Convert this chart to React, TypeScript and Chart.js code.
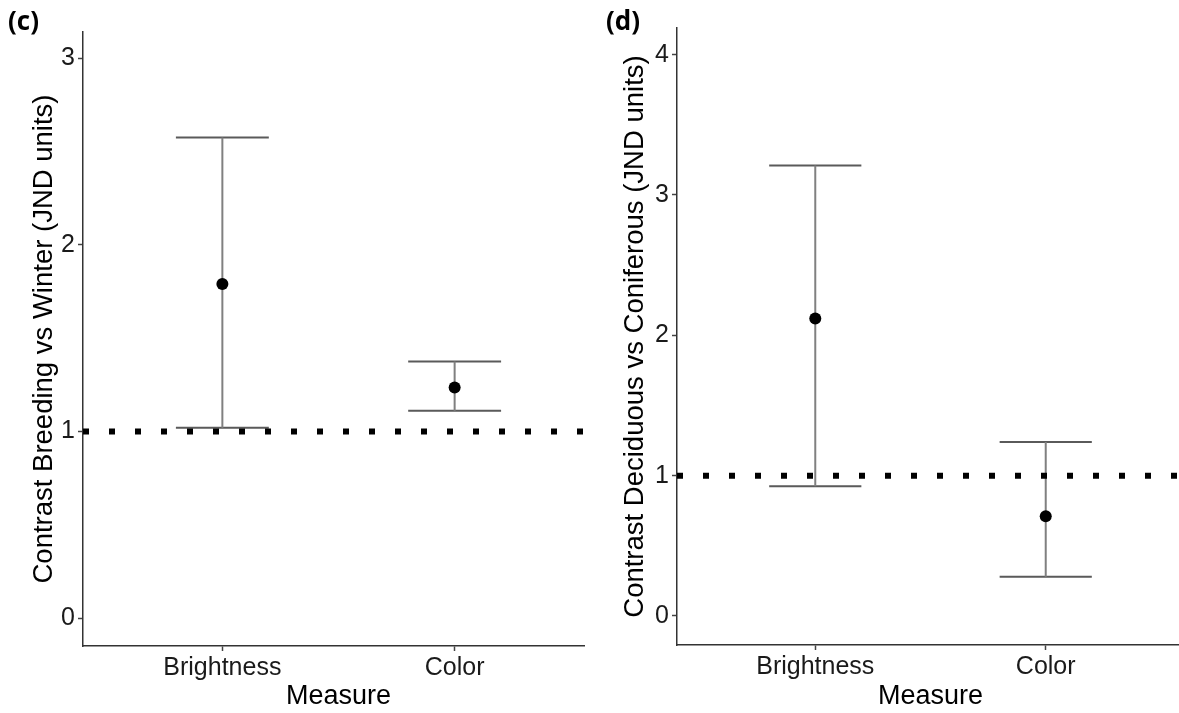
import React, { useEffect, useRef } from "react";
import { Chart, registerables } from "chart.js";

Chart.register(...registerables);

// ---- data ----
const categories = ["Brightness", "Color"];

const panelCMean = [1.79, 1.235];
const panelCLower = [1.02, 1.11];
const panelCUpper = [2.575, 1.375];
const panelCTicks = [0, 1, 2, 3];

const panelDMean = [2.12, 0.71];
const panelDLower = [0.925, 0.28];
const panelDUpper = [3.21, 1.24];
const panelDTicks = [0, 1, 2, 3, 4];

const referenceLine = 1;
const capHalfWidth = 0.2;

const FONT = "'Liberation Sans', Arial, sans-serif";

type PanelCfg = {
  mean: number[];
  lower: number[];
  upper: number[];
  yTicks: number[];
  yMin: number;
  yMax: number;
  yTitle: string;
  yAxisWidth: number;
  xAxisHeight: number;
  padTop: number;
  padRight: number;
  yTitlePad: number;
};

function buildChart(canvas: HTMLCanvasElement, cfg: PanelCfg) {
  const points = categories.map((_, i) => ({ x: i + 1, y: cfg.mean[i] }));
  const whiskers: { x: number; y: number | null }[] = [];
  const caps: { x: number; y: number | null }[] = [];
  categories.forEach((_, i) => {
    const x = i + 1;
    whiskers.push({ x, y: cfg.lower[i] }, { x, y: cfg.upper[i] }, { x, y: null });
    caps.push(
      { x: x - capHalfWidth, y: cfg.upper[i] },
      { x: x + capHalfWidth, y: cfg.upper[i] },
      { x, y: null },
      { x: x - capHalfWidth, y: cfg.lower[i] },
      { x: x + capHalfWidth, y: cfg.lower[i] },
      { x, y: null }
    );
  });
  const hline = [
    { x: 0.4, y: referenceLine },
    { x: 2.6, y: referenceLine },
  ];

  return new Chart(canvas, {
    type: "scatter",
    data: {
      datasets: [
        {
          label: "ref",
          data: hline,
          showLine: true,
          borderColor: "#000",
          borderWidth: 6,
          borderDash: [6, 20],
          borderCapStyle: "butt",
          pointRadius: 0,
          order: 0,
        } as any,
        {
          label: "mean",
          data: points,
          backgroundColor: "#000",
          borderColor: "#000",
          pointRadius: 6,
          borderWidth: 0,
          order: 1,
        },
        {
          label: "whisker",
          data: whiskers,
          showLine: true,
          spanGaps: false,
          borderColor: "#808080",
          borderWidth: 2,
          pointRadius: 0,
          order: 2,
        } as any,
        {
          label: "caps",
          data: caps,
          showLine: true,
          spanGaps: false,
          borderColor: "#5a5a5a",
          borderWidth: 2,
          pointRadius: 0,
          order: 2,
        } as any,
      ],
    },
    options: {
      responsive: false,
      maintainAspectRatio: false,
      animation: false,
      events: [],
      layout: { padding: { left: 0, top: cfg.padTop, right: cfg.padRight, bottom: 0 } },
      plugins: {
        legend: { display: false },
        tooltip: { enabled: false },
        title: { display: false },
      },
      scales: {
        x: {
          type: "linear",
          min: 0.4,
          max: 2.6,
          afterBuildTicks: (s: any) => {
            s.ticks = categories.map((_, i) => ({ value: i + 1 }));
          },
          afterFit: (s: any) => {
            s.height = cfg.xAxisHeight;
          },
          ticks: {
            callback: (v: any) => categories[Number(v) - 1] ?? "",
            color: "#1a1a1a",
            font: { family: FONT, size: 25 },
            padding: 2,
            maxRotation: 0,
            autoSkip: false,
          },
          grid: {
            display: true,
            drawOnChartArea: false,
            drawTicks: true,
            tickLength: 5,
            tickColor: "#444",
            tickWidth: 1.5,
          },
          border: { display: true, color: "#333", width: 1.5 },
          title: {
            display: true,
            text: "Measure",
            color: "#000",
            font: { family: FONT, size: 27 },
            padding: { top: 0, bottom: 0 },
          },
        },
        y: {
          type: "linear",
          min: cfg.yMin,
          max: cfg.yMax,
          afterBuildTicks: (s: any) => {
            s.ticks = cfg.yTicks.map((v) => ({ value: v }));
          },
          afterFit: (s: any) => {
            s.width = cfg.yAxisWidth;
          },
          ticks: {
            color: "#1a1a1a",
            font: { family: FONT, size: 25 },
            padding: 3,
            callback: (v: any) => String(v),
          },
          grid: {
            display: true,
            drawOnChartArea: false,
            drawTicks: true,
            tickLength: 5,
            tickColor: "#444",
            tickWidth: 1.5,
          },
          border: { display: true, color: "#333", width: 1.5 },
          title: {
            display: true,
            text: cfg.yTitle,
            color: "#000",
            font: { family: FONT, size: 27.5 },
            padding: { top: cfg.yTitlePad, bottom: 0 },
          },
        },
      },
    } as any,
  });
}

function Panel({ cfg, width, height }: { cfg: PanelCfg; width: number; height: number }) {
  const ref = useRef<HTMLCanvasElement | null>(null);
  useEffect(() => {
    if (!ref.current) return;
    const chart = buildChart(ref.current, cfg);
    return () => chart.destroy();
  }, [cfg]);
  return <canvas ref={ref} width={width} height={height} style={{ display: "block" }} />;
}

const cfgC: PanelCfg = {
  mean: panelCMean,
  lower: panelCLower,
  upper: panelCUpper,
  yTicks: panelCTicks,
  yMin: -0.15,
  yMax: 3.14,
  yTitle: "Contrast Breeding vs Winter (JND units)",
  yAxisWidth: 83,
  xAxisHeight: 67,
  padTop: 32,
  padRight: 2,
  yTitlePad: 28,
};

const cfgD: PanelCfg = {
  mean: panelDMean,
  lower: panelDLower,
  upper: panelDUpper,
  yTicks: panelDTicks,
  yMin: -0.207,
  yMax: 4.19,
  yTitle: "Contrast Deciduous vs Coniferous (JND units)",
  yAxisWidth: 87,
  xAxisHeight: 68,
  padTop: 28,
  padRight: 3,
  yTitlePad: 29,
};

const labelStyle: React.CSSProperties = {
  position: "absolute",
  top: 3,
  fontFamily: "'Open Sans', 'Liberation Sans', Arial, sans-serif",
  fontWeight: 700,
  fontSize: 26,
  color: "#000",
  lineHeight: "34px",
};

export default function App() {
  return (
    <div
      style={{
        position: "absolute",
        left: 0,
        top: 0,
        width: 1179,
        height: 713,
        background: "#fff",
        overflow: "hidden",
      }}
    >
      <div style={{ position: "absolute", left: 0, top: 0, width: 585, height: 713, overflow: "hidden" }}>
        <Panel cfg={cfgC} width={600} height={713} />
      </div>
      <div style={{ position: "absolute", left: 590, top: 0, width: 589, height: 713, overflow: "hidden" }}>
        <Panel cfg={cfgD} width={600} height={713} />
      </div>
      <div style={{ ...labelStyle, left: 8 }}>(c)</div>
      <div style={{ ...labelStyle, left: 606 }}>(d)</div>
    </div>
  );
}
